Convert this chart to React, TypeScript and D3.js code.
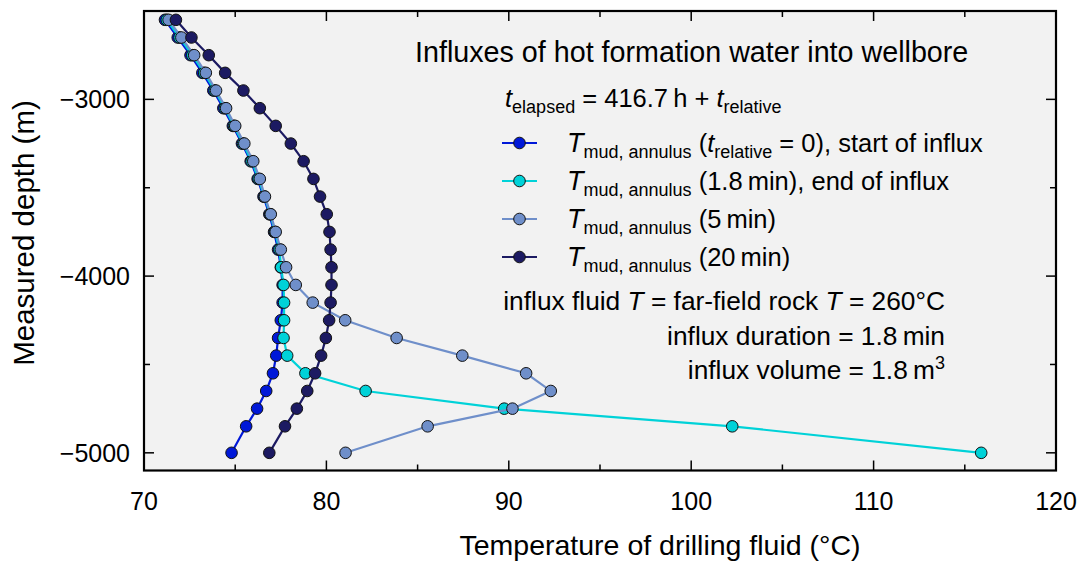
import React from "react";
import * as d3 from "d3";

// Measured depths (m) at which the annulus mud temperature is reported
const depths = [
  -2550, -2650, -2750, -2850, -2950, -3050, -3150, -3250, -3350, -3450, -3550, -3650, -3750,
  -3850, -3950, -4050, -4150, -4250, -4350, -4450, -4550, -4650, -4750, -4850, -5000,
];

// Mud temperature in the annulus (°C) at t_relative = 0 (start of influx)
const tempStart = [
  71.15, 71.85, 72.55, 73.2, 73.8, 74.35, 74.87, 75.37, 75.85, 76.23, 76.55, 76.87, 77.13,
  77.35, 77.5, 77.6, 77.6, 77.5, 77.35, 77.25, 77.07, 76.7, 76.2, 75.6, 74.8,
];
// at 1.8 min (end of influx)
const tempEnd = [
  71.25, 71.95, 72.65, 73.3, 73.88, 74.43, 74.93, 75.43, 75.9, 76.28, 76.6, 76.92, 77.18,
  77.42, 77.52, 77.65, 77.68, 77.68, 77.65, 77.85, 78.85, 82.15, 89.75, 102.25, 115.9,
];
// at 5 min
const temp5min = [
  71.35, 72.05, 72.75, 73.39, 73.95, 74.5, 75.0, 75.5, 75.99, 76.35, 76.63, 76.95, 77.22,
  77.5, 77.79, 78.32, 79.25, 81.03, 83.85, 87.45, 90.95, 92.3, 90.2, 85.55, 81.05,
];
// at 20 min
const temp20min = [
  71.75, 72.6, 73.55, 74.45, 75.45, 76.35, 77.22, 78.05, 78.75, 79.29, 79.65, 80.02, 80.17,
  80.23, 80.28, 80.28, 80.23, 80.15, 79.97, 79.71, 79.38, 78.95, 78.38, 77.73, 76.87,
];

const xTicks = [70, 80, 90, 100, 110, 120];
const xMinorTicks = [75, 85, 95, 105, 115];
const yTicks = [-3000, -4000, -5000];
const yMinorTicks = [-3500, -4500];

const seriesColors = ["#0018d8", "#00d2d8", "#6f8fca", "#1c1a62"];
const seriesValues = [tempStart, tempEnd, temp5min, temp20min];

const W = 1081;
const H = 562;
const FONT = "'Liberation Sans', Arial, Helvetica, sans-serif";

const plot = { left: 144, right: 1056, top: 11, bottom: 470.5 };

const x = d3.scaleLinear().domain([70, 120]).range([plot.left, plot.right]);
const y = d3.scaleLinear().domain([-5100, -2500]).range([plot.bottom, plot.top]);

const fmtTick = (v: number) => (v < 0 ? "\u2212" + Math.abs(v) : String(v));

export default function App() {
  const line = d3
    .line<[number, number]>()
    .x((d) => x(d[0]))
    .y((d) => y(d[1]));

  const series = seriesValues.map((vals) => vals.map((v, i) => [v, depths[i]] as [number, number]));

  const MAJ = 10;
  const MIN = 6;

  const legendRows = [143, 181, 219, 257];
  const legendLabels: React.ReactNode[] = [
    <>
      {" ("}
      <tspan fontStyle="italic">t</tspan>
      <tspan fontSize={18} dy={6}>relative</tspan>
      <tspan dy={-6}>{" = 0), start of influx"}</tspan>
    </>,
    <>{" (1.8\u2009min), end of influx"}</>,
    <>{" (5\u2009min)"}</>,
    <>{" (20\u2009min)"}</>,
  ];

  return (
    <svg
      width={W}
      height={H}
      style={{ position: "absolute", left: 0, top: 0, background: "#ffffff" }}
      fontFamily={FONT}
    >
      <rect x={plot.left} y={plot.top} width={plot.right - plot.left} height={plot.bottom - plot.top} fill="#f2f2f2" />

      {/* data series */}
      <g>
        {series.map((pts, si) => (
          <g key={si}>
            <path d={line(pts) || ""} fill="none" stroke={seriesColors[si]} strokeWidth={2.2} />
            {pts.map((p, i) => (
              <circle key={i} cx={x(p[0])} cy={y(p[1])} r={5.8} fill={seriesColors[si]} stroke="#111" strokeWidth={1} />
            ))}
          </g>
        ))}
      </g>

      {/* ticks on all four sides, pointing inward */}
      <g stroke="#000" strokeWidth={1.5}>
        {xTicks.map((t) => (
          <g key={"xt" + t}>
            <line x1={x(t)} x2={x(t)} y1={plot.bottom} y2={plot.bottom - MAJ} />
            <line x1={x(t)} x2={x(t)} y1={plot.top} y2={plot.top + MAJ} />
          </g>
        ))}
        {xMinorTicks.map((t) => (
          <g key={"xm" + t}>
            <line x1={x(t)} x2={x(t)} y1={plot.bottom} y2={plot.bottom - MIN} />
            <line x1={x(t)} x2={x(t)} y1={plot.top} y2={plot.top + MIN} />
          </g>
        ))}
        {yTicks.map((t) => (
          <g key={"yt" + t}>
            <line x1={plot.left} x2={plot.left + MAJ} y1={y(t)} y2={y(t)} />
            <line x1={plot.right} x2={plot.right - MAJ} y1={y(t)} y2={y(t)} />
          </g>
        ))}
        {yMinorTicks.map((t) => (
          <g key={"ym" + t}>
            <line x1={plot.left} x2={plot.left + MIN} y1={y(t)} y2={y(t)} />
            <line x1={plot.right} x2={plot.right - MIN} y1={y(t)} y2={y(t)} />
          </g>
        ))}
      </g>

      <rect
        x={plot.left}
        y={plot.top}
        width={plot.right - plot.left}
        height={plot.bottom - plot.top}
        fill="none"
        stroke="#000"
        strokeWidth={2.2}
      />

      {/* tick labels */}
      <g fontSize={25} fill="#000">
        {xTicks.map((t) => (
          <text key={"xl" + t} x={x(t)} y={510} textAnchor="middle">
            {t}
          </text>
        ))}
        {yTicks.map((t) => (
          <text key={"yl" + t} x={130} y={y(t) + 9} textAnchor="end">
            {fmtTick(t)}
          </text>
        ))}
      </g>

      {/* axis titles */}
      <text x={660} y={555} fontSize={28.5} textAnchor="middle">
        Temperature of drilling fluid (°C)
      </text>
      <text transform={`translate(34,233) rotate(-90)`} fontSize={29.5} textAnchor="middle">
        Measured depth (m)
      </text>

      {/* annotation block */}
      <text x={415} y={62} fontSize={28.7}>
        Influxes of hot formation water into wellbore
      </text>
      <text x={505} y={107} fontSize={25.5}>
        <tspan fontStyle="italic">t</tspan>
        <tspan fontSize={18} dy={6}>elapsed</tspan>
        <tspan dy={-6}>{" = 416.7\u2009h + "}</tspan>
        <tspan fontStyle="italic">t</tspan>
        <tspan fontSize={18} dy={6}>relative</tspan>
      </text>

      {/* legend */}
      {legendRows.map((ry, i) => (
        <g key={"lg" + i}>
          <line x1={502} x2={537} y1={ry} y2={ry} stroke={seriesColors[i]} strokeWidth={2.2} />
          <circle cx={519.5} cy={ry} r={5.8} fill={seriesColors[i]} stroke="#111" strokeWidth={1} />
          <text x={567} y={ry + 9} fontSize={25.5}>
            <tspan fontStyle="italic" fontSize={27}>T</tspan>
            <tspan fontSize={18} dy={6}>mud, annulus</tspan>
            <tspan dy={-6}>{legendLabels[i]}</tspan>
          </text>
        </g>
      ))}

      <g fontSize={26.3} textAnchor="end">
        <text x={945} y={310}>
          {"influx fluid "}
          <tspan fontStyle="italic">T</tspan>
          {" = far-field rock "}
          <tspan fontStyle="italic">T</tspan>
          {" = 260°C"}
        </text>
        <text x={945} y={345}>
          {"influx duration = 1.8\u2009min"}
        </text>
        <text x={945} y={379}>
          {"influx volume = 1.8\u2009m"}
          <tspan fontSize={18} dy={-10}>3</tspan>
        </text>
      </g>
    </svg>
  );
}
